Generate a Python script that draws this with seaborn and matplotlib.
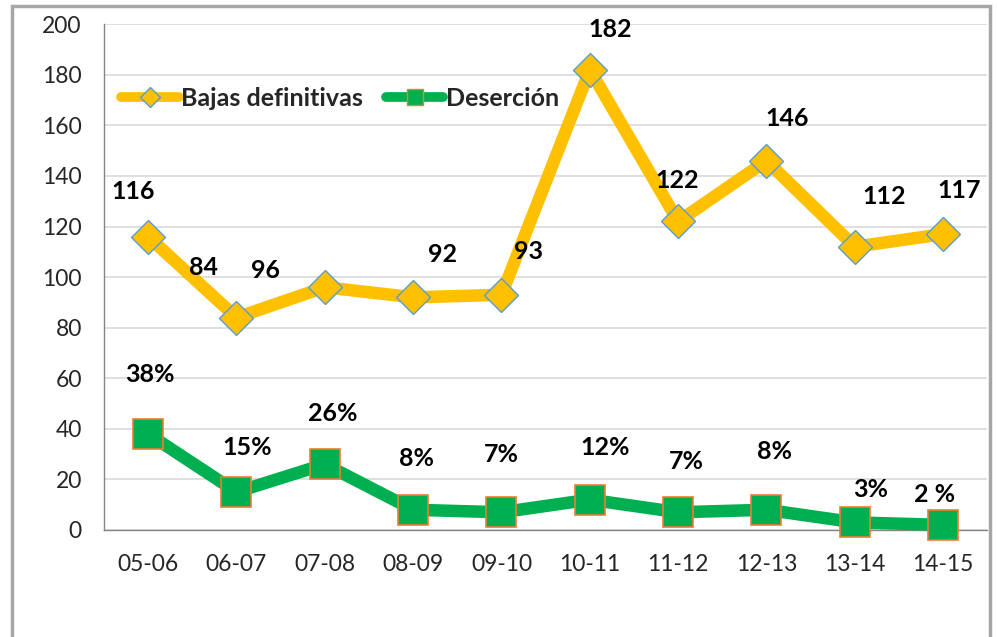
import numpy as np
import pandas as pd
import seaborn as sns
import matplotlib
matplotlib.use("Agg")
from matplotlib import pyplot as plt
from matplotlib.patches import Rectangle
from matplotlib.lines import Line2D

# data
periodos = ["05-06", "06-07", "07-08", "08-09", "09-10",
            "10-11", "11-12", "12-13", "13-14", "14-15"]
bajas = [116, 84, 96, 92, 93, 182, 122, 146, 112, 117]
desercion = [38, 15, 26, 8, 7, 12, 7, 8, 3, 2]
desercion_labels = ["38%", "15%", "26%", "8%", "7%", "12%", "7%", "8%", "3%", "2 %"]

# label offsets in pixels (manual placement as in the original)
bajas_off = [(-15, 45), (-33, 50), (-59, 17), (29, 43), (27, 43),
             (20, 40), (-1, 41), (21, 42), (29, 50), (16, 44)]
des_off = [(2, 59), (11, 45), (8, 51), (3, 51), (0, 58),
           (15, 52), (8, 51), (8, 58), (16, 33), (-9, 30)]

sns.set_style("white")
plt.rcParams["font.family"] = ["Lato", "DejaVu Sans"]

YELLOW = "#FFC000"
GREEN = "#00B050"

df = pd.DataFrame({"periodo": periodos, "bajas": bajas, "desercion": desercion})

fig = plt.figure(figsize=(9.97, 6.37), dpi=100)
ax = fig.add_axes([0.1043, 0.168, 0.886, 0.794])

sns.lineplot(data=df, x="periodo", y="bajas", ax=ax, color=YELLOW, linewidth=9,
             marker="D", markersize=17, markerfacecolor=YELLOW,
             markeredgecolor="#5B9BD5", markeredgewidth=1, zorder=3, clip_on=False)
sns.lineplot(data=df, x="periodo", y="desercion", ax=ax, color=GREEN, linewidth=9,
             marker="s", markersize=22, markerfacecolor=GREEN,
             markeredgecolor="#ED7D31", markeredgewidth=1.2, zorder=3, clip_on=False)

for i, (v, off) in enumerate(zip(bajas, bajas_off)):
    ax.annotate(str(v), (i, v), xytext=off, textcoords="offset pixels",
                ha="center", va="center", fontsize=18, fontweight="bold",
                color="black", zorder=5)
for i, (v, lab, off) in enumerate(zip(desercion, desercion_labels, des_off)):
    ax.annotate(lab, (i, v), xytext=off, textcoords="offset pixels",
                ha="center", va="center", fontsize=18, fontweight="bold",
                color="black", zorder=5)

ax.set_ylim(0, 200)
ax.set_xlim(-0.5, len(periodos) - 0.5)
ax.set_yticks(np.arange(0, 201, 20))
ax.set_xticks(range(len(periodos)))
ax.set_xticklabels(periodos)
ax.set_xticks(np.arange(-0.5, len(periodos), 1), minor=True)
ax.set_xlabel("")
ax.set_ylabel("")
ax.grid(axis="y", color="#D9D9D9", linewidth=1.2)
ax.set_axisbelow(True)

for s in ["top", "right"]:
    ax.spines[s].set_visible(False)
for s in ["left", "bottom"]:
    ax.spines[s].set_color("#868686")
    ax.spines[s].set_linewidth(1)

ax.tick_params(axis="y", which="major", length=8, color="#868686", labelsize=16.5, pad=8)
ax.tick_params(axis="x", which="major", length=0, labelsize=16.5, pad=17)
ax.tick_params(axis="x", which="minor", length=8, color="#868686")

handles = [
    Line2D([], [], color=YELLOW, linewidth=7, marker="D", markersize=10,
           markerfacecolor=YELLOW, markeredgecolor="#5B9BD5", markeredgewidth=1),
    Line2D([], [], color=GREEN, linewidth=7, marker="s", markersize=12,
           markerfacecolor=GREEN, markeredgecolor="#ED7D31", markeredgewidth=1),
]
ax.legend(handles, ["Bajas definitivas", "Deserción"], loc="upper left",
          bbox_to_anchor=(0.0, 0.91), ncol=2, frameon=False,
          prop={"weight": "bold", "size": 18}, handlelength=2.3,
          handletextpad=0.1, columnspacing=0.9, borderaxespad=0.3)

# outer chart frame
fig.patches.append(Rectangle((12 / 997, -0.05), 978 / 997, 1.05 - 6 / 637,
                             transform=fig.transFigure, fill=False,
                             edgecolor="#A6A6A6", linewidth=2.5, zorder=0))

fig.savefig("out.png", dpi=100)
